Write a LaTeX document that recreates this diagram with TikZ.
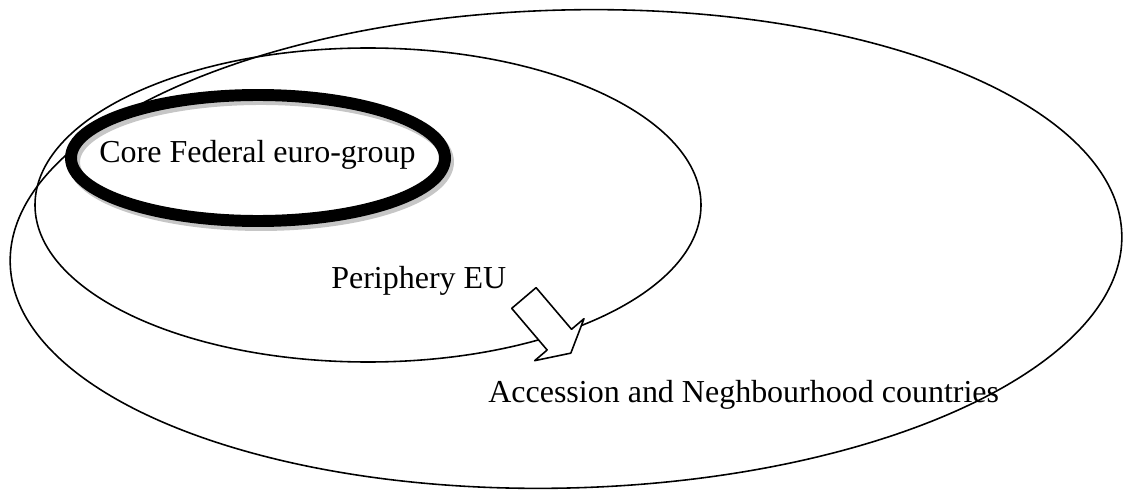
\documentclass[tikz,border=0pt]{standalone}
\usepackage{fontspec}
\setmainfont{Liberation Serif}
\begin{document}
\begin{tikzpicture}[line join=round, line cap=round, font=\fontsize{18.2}{22}\selectfont,
	ring/.style={line width=0.9pt},
	label/.style={anchor=base west, inner sep=0pt}]
	\useasboundingbox (0,0) rectangle (22.46,9.78);
	% Vòng ngoài và vòng giữa
	\draw[ring, rotate around={1.5:(11.32,4.8)}] (11.32,4.8) ellipse (11.12 and 4.78);
	\draw[ring] (7.36,5.68) ellipse (6.66 and 3.14);
	% Vòng lõi có bóng
	\draw[line width=6.8pt, gray!45] (5.22,6.54) ellipse (3.74 and 1.26);
	\draw[line width=6.8pt] (5.16,6.62) ellipse (3.74 and 1.26);
	% Mũi tên rỗng
	\begin{scope}[shift={(10.478,3.82)}, rotate=-49.6]
		\filldraw[ring, fill=white] (0,0.32) -- (1.094,0.32) -- (1.094,0.648) -- (1.448,0)
			-- (1.094,-0.648) -- (1.094,-0.32) -- (0,-0.32) -- cycle;
	\end{scope}
	% Nhãn
	\node[label] (core) at (1.98,6.52) {Core Federal euro-group};
	\node[label] (periphery) at (6.62,4.02) {Periphery EU};
	\node[label] (accession) at (9.76,1.74) {Accession and Neghbourhood countries};
\end{tikzpicture}
\end{document}
